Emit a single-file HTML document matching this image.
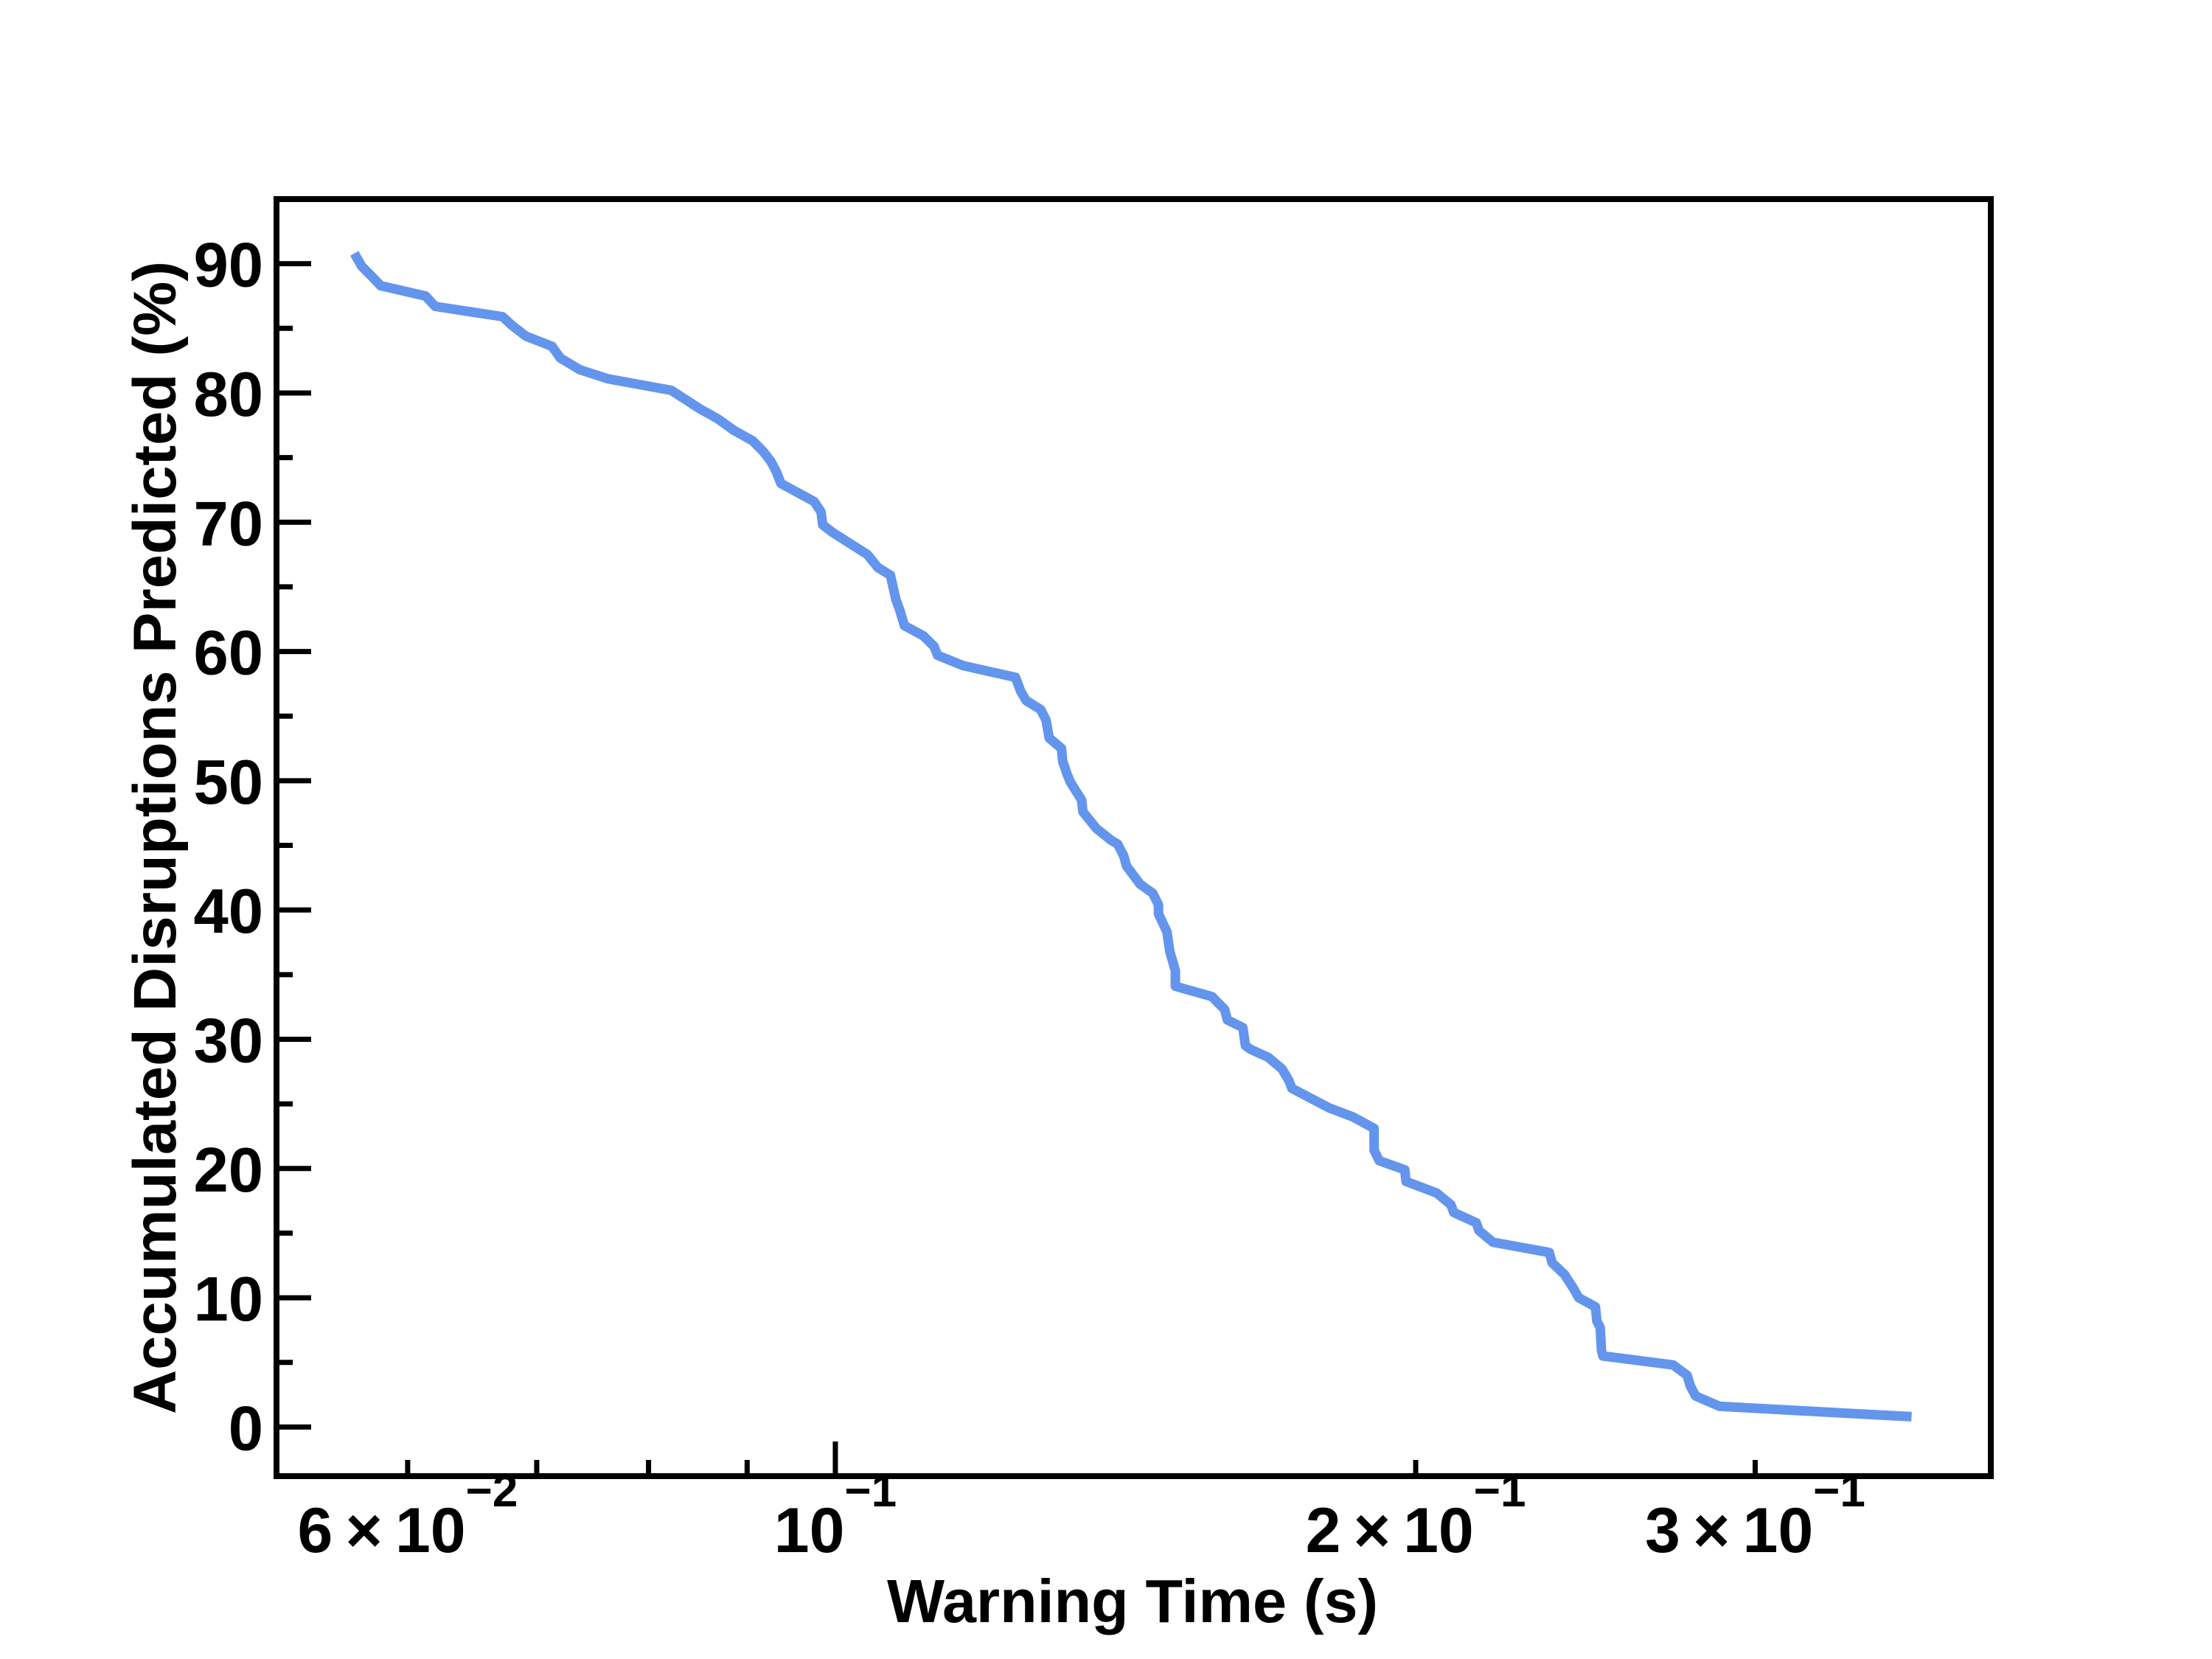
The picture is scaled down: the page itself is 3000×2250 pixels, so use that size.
<!DOCTYPE html>
<html><head><meta charset="utf-8"><style>
html,body{margin:0;padding:0;background:#fff;}
svg{display:block;}
text{font-family:"Liberation Sans",sans-serif;font-weight:bold;fill:#000;}
</style></head><body>
<svg id="chart" width="3000" height="2250" viewBox="0 0 3000 2250" xmlns="http://www.w3.org/2000/svg">
<rect x="0" y="0" width="3000" height="2250" fill="#fff"/>
<g id="ticks"></g>
<g id="labels"></g>
<path id="series" fill="none" stroke="#6495ED" stroke-width="13" stroke-linejoin="round"/>
<rect x="375" y="270" width="2325" height="1732" fill="none" stroke="#000" stroke-width="8"/>
<text x="1536" y="2200" font-size="83" text-anchor="middle" textLength="666" lengthAdjust="spacingAndGlyphs">Warning Time (s)</text>
<text transform="translate(238,1136) rotate(-90)" x="0" y="0" font-size="82" text-anchor="middle" textLength="1564" lengthAdjust="spacingAndGlyphs">Accumulated Disruptions Predicted (%)</text>
</svg>
<script>
const warningTimes = [0.0563,0.0568,0.0575,0.0581,0.0613,0.0620,0.0672,0.0680,0.0691,0.0713,0.0720,0.0737,0.0762,0.0822,0.0836,0.0850,0.0869,0.0886,0.0906,0.0917,0.0926,0.0932,0.0937,0.0975,0.0983,0.0985,0.0997,0.1039,0.1052,0.1068,0.1075,0.1080,0.1086,0.1111,0.1125,0.1130,0.1165,0.1240,0.1248,0.1256,0.1278,0.1286,0.1291,0.1310,0.1312,0.1319,0.1324,0.1342,0.1344,0.1366,0.1390,0.1401,0.1411,0.1416,0.1439,0.1461,0.1471,0.1471,0.1486,0.1491,0.1501,0.1501,0.1568,0.1592,0.1597,0.1627,0.1632,0.1643,0.1677,0.1705,0.1719,0.1725,0.1803,0.1855,0.1903,0.1903,0.1915,0.1974,0.1977,0.2051,0.2086,0.2093,0.2150,0.2157,0.2193,0.2346,0.2354,0.2389,0.2413,0.2430,0.2479,0.2483,0.2493,0.2497,0.2501,0.2720,0.2766,0.2776,0.2794,0.2875,0.3616];
const predictedPct = [90.8,89.8,89.0,88.3,87.5,86.7,85.9,85.2,84.4,83.6,82.7,81.8,81.1,80.2,79.5,78.8,78.0,77.1,76.3,75.5,74.7,73.9,73.0,71.6,70.8,69.8,69.2,67.5,66.5,65.9,64.0,63.2,62.0,61.2,60.4,59.7,58.9,58.0,56.9,56.2,55.5,54.7,53.3,52.5,51.5,50.5,49.9,48.5,47.6,46.3,45.4,45.1,44.2,43.4,42.0,41.3,40.4,39.7,38.3,36.8,35.3,34.1,33.3,32.3,31.5,30.9,29.5,29.2,28.6,27.7,26.8,26.2,24.7,24.0,23.1,21.4,20.6,19.9,19.0,18.1,17.2,16.6,15.8,15.2,14.3,13.5,12.7,11.8,10.8,10.0,9.3,8.2,7.7,5.9,5.5,4.8,4.0,3.2,2.4,1.6,0.8];
const yTickValues = [0,10,20,30,40,50,60,70,80,90];
const yMinorValues = [5,15,25,35,45,55,65,75,85];
const xMajorValues = [0.1];
const xMinorValues = [0.06,0.07,0.08,0.09,0.2,0.3];
const xLabelMant = ["6","","2","3"];
const xLabelValues = [0.06,0.1,0.2,0.3];
const xLabelExp = ["\u22122","\u22121","\u22121","\u22121"];

const L=375,R=2700,T=270,B=2002;
const xmin=Math.log10(0.0513), xmax=Math.log10(0.3975);
const ymin=-3.8, ymax=95.0;
function xs(v){return L+(Math.log10(v)-xmin)/(xmax-xmin)*(R-L);}
function ys(v){return B-(v-ymin)/(ymax-ymin)*(B-T);}
const NS="http://www.w3.org/2000/svg";
const tg=document.getElementById('ticks'), lg=document.getElementById('labels');
function line(x1,y1,x2,y2,name){
  const l=document.createElementNS(NS,'line');
  l.setAttribute('x1',x1);l.setAttribute('y1',y1);l.setAttribute('x2',x2);l.setAttribute('y2',y2);
  l.setAttribute('stroke','#000');l.setAttribute('stroke-width','7');
  
  
  tg.appendChild(l);
}
yTickValues.forEach(v=>{
  const y=ys(v);
  line(L,y,L+47,y,'y-major-tick');
  const t=document.createElementNS(NS,'text');
  t.setAttribute('x',357);t.setAttribute('y',y+31);t.setAttribute('font-size','85');
  t.setAttribute('text-anchor','end');t.textContent=String(v);
  
  
  lg.appendChild(t);
});
yMinorValues.forEach(v=>{const y=ys(v);line(L,y,L+22,y,'y-minor-tick');});
xMajorValues.forEach(v=>{const x=xs(v);line(x,B,x,B-47,'x-major-tick');});
xMinorValues.forEach(v=>{const x=xs(v);line(x,B,x,B-22,'x-minor-tick');});
xLabelValues.forEach((v,i)=>{
  const t=document.createElementNS(NS,'text');
  t.setAttribute('x',xs(v));t.setAttribute('y',2105);t.setAttribute('font-size','86');
  t.setAttribute('text-anchor','middle');
  const base=(xLabelMant[i]?xLabelMant[i]+"\u2009\u00d7\u2009":"")+"10";
  const s1=document.createElementNS(NS,'tspan');s1.textContent=base;
  const s2=document.createElementNS(NS,'tspan');s2.setAttribute('dy','-62');s2.setAttribute('font-size','62');s2.textContent=xLabelExp[i];
  t.appendChild(s1);t.appendChild(s2);
  
  
  lg.appendChild(t);
});
let d='';
warningTimes.forEach((v,i)=>{d+=(i?'L':'M')+xs(v).toFixed(1)+','+ys(predictedPct[i]).toFixed(1);});
document.getElementById('series').setAttribute('d',d);
</script>
</body></html>
